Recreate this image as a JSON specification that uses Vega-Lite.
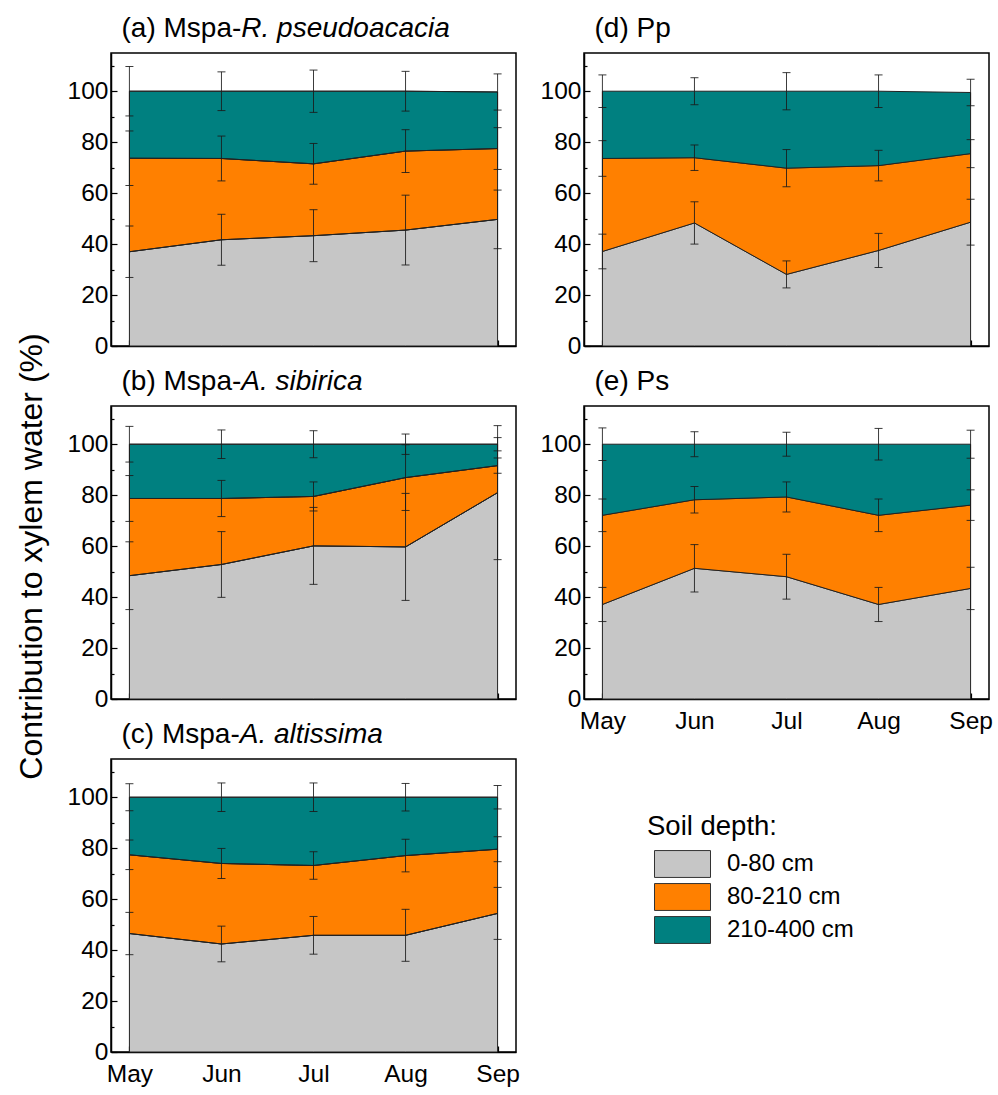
{
  "$schema": "https://vega.github.io/schema/vega-lite/v6.json",
  "padding": {"left": 14, "top": 13, "right": 5, "bottom": 5},
  "background": "white",
  "data": {"values": [
    {"p":"a","month":5,"depth":"0-80 cm","k":1,"value":37.0,"sd":10.1},
    {"p":"a","month":5,"depth":"80-210 cm","k":2,"value":36.7,"sd":10.7},
    {"p":"a","month":5,"depth":"210-400 cm","k":3,"value":26.3,"sd":9.7},
    {"p":"a","month":6,"depth":"0-80 cm","k":1,"value":41.7,"sd":10.0},
    {"p":"a","month":6,"depth":"80-210 cm","k":2,"value":31.9,"sd":8.8},
    {"p":"a","month":6,"depth":"210-400 cm","k":3,"value":26.4,"sd":7.6},
    {"p":"a","month":7,"depth":"0-80 cm","k":1,"value":43.3,"sd":10.2},
    {"p":"a","month":7,"depth":"80-210 cm","k":2,"value":28.2,"sd":8.0},
    {"p":"a","month":7,"depth":"210-400 cm","k":3,"value":28.5,"sd":8.3},
    {"p":"a","month":8,"depth":"0-80 cm","k":1,"value":45.5,"sd":13.7},
    {"p":"a","month":8,"depth":"80-210 cm","k":2,"value":31.0,"sd":8.4},
    {"p":"a","month":8,"depth":"210-400 cm","k":3,"value":23.5,"sd":7.8},
    {"p":"a","month":9,"depth":"0-80 cm","k":1,"value":49.7,"sd":11.5},
    {"p":"a","month":9,"depth":"80-210 cm","k":2,"value":27.8,"sd":8.2},
    {"p":"a","month":9,"depth":"210-400 cm","k":3,"value":22.2,"sd":7.1},
    {"p":"b","month":5,"depth":"0-80 cm","k":1,"value":48.4,"sd":13.3},
    {"p":"b","month":5,"depth":"80-210 cm","k":2,"value":30.3,"sd":9.0},
    {"p":"b","month":5,"depth":"210-400 cm","k":3,"value":21.3,"sd":7.0},
    {"p":"b","month":6,"depth":"0-80 cm","k":1,"value":52.8,"sd":12.9},
    {"p":"b","month":6,"depth":"80-210 cm","k":2,"value":25.9,"sd":7.1},
    {"p":"b","month":6,"depth":"210-400 cm","k":3,"value":21.3,"sd":5.6},
    {"p":"b","month":7,"depth":"0-80 cm","k":1,"value":60.1,"sd":15.1},
    {"p":"b","month":7,"depth":"80-210 cm","k":2,"value":19.4,"sd":5.7},
    {"p":"b","month":7,"depth":"210-400 cm","k":3,"value":20.5,"sd":5.3},
    {"p":"b","month":8,"depth":"0-80 cm","k":1,"value":59.7,"sd":21.0},
    {"p":"b","month":8,"depth":"80-210 cm","k":2,"value":27.2,"sd":12.9},
    {"p":"b","month":8,"depth":"210-400 cm","k":3,"value":13.1,"sd":4.0},
    {"p":"b","month":9,"depth":"0-80 cm","k":1,"value":81.0,"sd":26.3},
    {"p":"b","month":9,"depth":"80-210 cm","k":2,"value":10.6,"sd":3.0},
    {"p":"b","month":9,"depth":"210-400 cm","k":3,"value":8.4,"sd":2.6},
    {"p":"c","month":5,"depth":"0-80 cm","k":1,"value":46.5,"sd":8.3},
    {"p":"c","month":5,"depth":"80-210 cm","k":2,"value":30.9,"sd":5.8},
    {"p":"c","month":5,"depth":"210-400 cm","k":3,"value":22.6,"sd":5.3},
    {"p":"c","month":6,"depth":"0-80 cm","k":1,"value":42.4,"sd":7.0},
    {"p":"c","month":6,"depth":"80-210 cm","k":2,"value":31.6,"sd":5.9},
    {"p":"c","month":6,"depth":"210-400 cm","k":3,"value":26.0,"sd":5.6},
    {"p":"c","month":7,"depth":"0-80 cm","k":1,"value":45.8,"sd":7.4},
    {"p":"c","month":7,"depth":"80-210 cm","k":2,"value":27.4,"sd":5.4},
    {"p":"c","month":7,"depth":"210-400 cm","k":3,"value":26.8,"sd":5.6},
    {"p":"c","month":8,"depth":"0-80 cm","k":1,"value":45.8,"sd":10.2},
    {"p":"c","month":8,"depth":"80-210 cm","k":2,"value":31.3,"sd":6.4},
    {"p":"c","month":8,"depth":"210-400 cm","k":3,"value":22.9,"sd":5.4},
    {"p":"c","month":9,"depth":"0-80 cm","k":1,"value":54.4,"sd":10.2},
    {"p":"c","month":9,"depth":"80-210 cm","k":2,"value":25.2,"sd":4.9},
    {"p":"c","month":9,"depth":"210-400 cm","k":3,"value":20.4,"sd":4.6},
    {"p":"d","month":5,"depth":"0-80 cm","k":1,"value":37.1,"sd":6.8},
    {"p":"d","month":5,"depth":"80-210 cm","k":2,"value":36.5,"sd":7.0},
    {"p":"d","month":5,"depth":"210-400 cm","k":3,"value":26.4,"sd":6.4},
    {"p":"d","month":6,"depth":"0-80 cm","k":1,"value":48.3,"sd":8.3},
    {"p":"d","month":6,"depth":"80-210 cm","k":2,"value":25.6,"sd":5.0},
    {"p":"d","month":6,"depth":"210-400 cm","k":3,"value":26.1,"sd":5.3},
    {"p":"d","month":7,"depth":"0-80 cm","k":1,"value":28.1,"sd":5.3},
    {"p":"d","month":7,"depth":"80-210 cm","k":2,"value":41.7,"sd":7.3},
    {"p":"d","month":7,"depth":"210-400 cm","k":3,"value":30.2,"sd":7.3},
    {"p":"d","month":8,"depth":"0-80 cm","k":1,"value":37.5,"sd":6.7},
    {"p":"d","month":8,"depth":"80-210 cm","k":2,"value":33.3,"sd":6.0},
    {"p":"d","month":8,"depth":"210-400 cm","k":3,"value":29.2,"sd":6.4},
    {"p":"d","month":9,"depth":"0-80 cm","k":1,"value":48.6,"sd":9.0},
    {"p":"d","month":9,"depth":"80-210 cm","k":2,"value":26.9,"sd":5.5},
    {"p":"d","month":9,"depth":"210-400 cm","k":3,"value":24.0,"sd":5.2},
    {"p":"e","month":5,"depth":"0-80 cm","k":1,"value":37.1,"sd":6.7},
    {"p":"e","month":5,"depth":"80-210 cm","k":2,"value":35.0,"sd":6.4},
    {"p":"e","month":5,"depth":"210-400 cm","k":3,"value":27.9,"sd":6.4},
    {"p":"e","month":6,"depth":"0-80 cm","k":1,"value":51.3,"sd":9.3},
    {"p":"e","month":6,"depth":"80-210 cm","k":2,"value":26.9,"sd":5.2},
    {"p":"e","month":6,"depth":"210-400 cm","k":3,"value":21.8,"sd":4.9},
    {"p":"e","month":7,"depth":"0-80 cm","k":1,"value":48.0,"sd":8.8},
    {"p":"e","month":7,"depth":"80-210 cm","k":2,"value":31.3,"sd":5.9},
    {"p":"e","month":7,"depth":"210-400 cm","k":3,"value":20.7,"sd":4.7},
    {"p":"e","month":8,"depth":"0-80 cm","k":1,"value":37.1,"sd":6.7},
    {"p":"e","month":8,"depth":"80-210 cm","k":2,"value":35.0,"sd":6.4},
    {"p":"e","month":8,"depth":"210-400 cm","k":3,"value":27.9,"sd":6.2},
    {"p":"e","month":9,"depth":"0-80 cm","k":1,"value":43.4,"sd":8.3},
    {"p":"e","month":9,"depth":"80-210 cm","k":2,"value":32.7,"sd":6.0},
    {"p":"e","month":9,"depth":"210-400 cm","k":3,"value":23.9,"sd":5.5}
  ]},
  "columns": 2,
  "bounds": "flush",
  "spacing": {"row": 60, "column": 68},
  "concat": [
    {
      "width": 405, "height": 293,
      "transform": [
        {"filter": "datum.p === 'a'"},
        {"stack": "value", "groupby": ["month"], "sort": [{"field": "k", "order": "ascending"}], "as": ["y0", "y1"]}
      ],
      "resolve": {"axis": {"x": "independent"}},
      "layer": [
        {
          "mark": {"type": "area", "opacity": 1, "stroke": "#222222", "strokeWidth": 1, "interpolate": "linear"},
          "encoding": {
            "x": {"field": "month", "type": "quantitative", "scale": {"domain": [4.8, 9.2], "nice": false, "zero": false},
                  "axis": {"orient": "bottom", "title": null, "values": [5,5.5,6,6.5,7,7.5,8,8.5,9], "labels": false,
                           "tickSize": {"condition": {"test": "datum.value % 1 === 0", "value": -6}, "value": -3}}},
            "y": {"field": "y1", "type": "quantitative", "scale": {"domain": [0, 115], "nice": false},
                  "axis": {"title": null, "values": [0,10,20,30,40,50,60,70,80,90,100,110], "labelPadding": 9,
                           "labelExpr": "datum.value % 20 === 0 && datum.value <= 100 ? datum.label : ''",
                           "tickSize": {"condition": {"test": "datum.value % 20 === 0", "value": -6}, "value": -3}}},
            "y2": {"field": "y0"},
            "color": {"field": "depth", "type": "nominal", "title": "Soil depth:",
                      "scale": {"domain": ["0-80 cm", "80-210 cm", "210-400 cm"], "range": ["#C6C6C6", "#FF8000", "#008080"]},
                      "legend": {"orient": "none", "legendX": 536, "legendY": 760}},
            "order": {"field": "k"}
          }
        },
        {
          "mark": {"type": "line", "color": "#222222", "strokeWidth": 1},
          "encoding": {
            "x": {"field": "month", "type": "quantitative",
                  "axis": {"orient": "top", "labels": false, "ticks": false, "domain": false, "title": "(a) Mspa-",
                           "titleFontSize": 28, "titleX": 10, "titleY": -17,
                           "titleAlign": "left", "titleBaseline": "alphabetic", "titleAnchor": "start"}},
            "y": {"field": "y1", "type": "quantitative",
                  "axis": {"title": null, "values": [0,10,20,30,40,50,60,70,80,90,100,110], "labelPadding": 9,
                           "labelExpr": "datum.value % 20 === 0 && datum.value <= 100 ? datum.label : ''",
                           "tickSize": {"condition": {"test": "datum.value % 20 === 0", "value": -6}, "value": -3}}},
            "detail": {"field": "depth"}
          }
        },
        {
          "mark": {"type": "errorbar", "ticks": {"size": 8}, "color": "#1a1a1a", "thickness": 1, "opacity": 0.85},
          "encoding": {
            "x": {"field": "month", "type": "quantitative",
                  "axis": {"orient": "top", "labels": false, "ticks": false, "domain": false, "title": "R. pseudoacacia",
                           "titleFontStyle": "italic", "titleFontSize": 28, "titleX": 129.8, "titleY": -17,
                           "titleAlign": "left", "titleBaseline": "alphabetic", "titleAnchor": "start"}},
            "y": {"field": "y1", "type": "quantitative",
                  "axis": {"title": null, "values": [0,10,20,30,40,50,60,70,80,90,100,110], "labelPadding": 9,
                           "labelExpr": "datum.value % 20 === 0 && datum.value <= 100 ? datum.label : ''",
                           "tickSize": {"condition": {"test": "datum.value % 20 === 0", "value": -6}, "value": -3}}},
            "yError": {"field": "sd"}
          }
        }
      ]
    },
    {
      "width": 405, "height": 293,
      "transform": [
        {"filter": "datum.p === 'd'"},
        {"stack": "value", "groupby": ["month"], "sort": [{"field": "k", "order": "ascending"}], "as": ["y0", "y1"]}
      ],
      "resolve": {"axis": {"x": "independent"}},
      "layer": [
        {
          "mark": {"type": "area", "opacity": 1, "stroke": "#222222", "strokeWidth": 1, "interpolate": "linear"},
          "encoding": {
            "x": {"field": "month", "type": "quantitative", "scale": {"domain": [4.8, 9.2], "nice": false, "zero": false},
                  "axis": {"orient": "bottom", "title": null, "values": [5,5.5,6,6.5,7,7.5,8,8.5,9], "labels": false,
                           "tickSize": {"condition": {"test": "datum.value % 1 === 0", "value": -6}, "value": -3}}},
            "y": {"field": "y1", "type": "quantitative", "scale": {"domain": [0, 115], "nice": false},
                  "axis": {"title": null, "values": [0,10,20,30,40,50,60,70,80,90,100,110], "labelPadding": 9,
                           "labelExpr": "datum.value % 20 === 0 && datum.value <= 100 ? datum.label : ''",
                           "tickSize": {"condition": {"test": "datum.value % 20 === 0", "value": -6}, "value": -3}}},
            "y2": {"field": "y0"},
            "color": {"field": "depth", "type": "nominal", "title": "Soil depth:",
                      "scale": {"domain": ["0-80 cm", "80-210 cm", "210-400 cm"], "range": ["#C6C6C6", "#FF8000", "#008080"]},
                      "legend": {"orient": "none", "legendX": 536, "legendY": 760}},
            "order": {"field": "k"}
          }
        },
        {
          "mark": {"type": "errorbar", "ticks": {"size": 8}, "color": "#1a1a1a", "thickness": 1, "opacity": 0.85},
          "encoding": {
            "x": {"field": "month", "type": "quantitative",
                  "axis": {"orient": "top", "labels": false, "ticks": false, "domain": false, "title": "(d) Pp",
                           "titleFontSize": 28, "titleX": 10, "titleY": -17,
                           "titleAlign": "left", "titleBaseline": "alphabetic", "titleAnchor": "start"}},
            "y": {"field": "y1", "type": "quantitative",
                  "axis": {"title": null, "values": [0,10,20,30,40,50,60,70,80,90,100,110], "labelPadding": 9,
                           "labelExpr": "datum.value % 20 === 0 && datum.value <= 100 ? datum.label : ''",
                           "tickSize": {"condition": {"test": "datum.value % 20 === 0", "value": -6}, "value": -3}}},
            "yError": {"field": "sd"}
          }
        }
      ]
    },
    {
      "width": 405, "height": 293,
      "transform": [
        {"filter": "datum.p === 'b'"},
        {"stack": "value", "groupby": ["month"], "sort": [{"field": "k", "order": "ascending"}], "as": ["y0", "y1"]}
      ],
      "resolve": {"axis": {"x": "independent"}},
      "layer": [
        {
          "mark": {"type": "area", "opacity": 1, "stroke": "#222222", "strokeWidth": 1, "interpolate": "linear"},
          "encoding": {
            "x": {"field": "month", "type": "quantitative", "scale": {"domain": [4.8, 9.2], "nice": false, "zero": false},
                  "axis": {"orient": "bottom", "title": null, "values": [5,5.5,6,6.5,7,7.5,8,8.5,9], "labels": false,
                           "tickSize": {"condition": {"test": "datum.value % 1 === 0", "value": -6}, "value": -3}}},
            "y": {"field": "y1", "type": "quantitative", "scale": {"domain": [0, 115], "nice": false},
                  "axis": {"title": "Contribution to xylem water (%)", "titleFontSize": 32, "titleX": -70, "titleY": 150,
                           "titleAngle": 270, "titleAlign": "center", "titleBaseline": "alphabetic", "titleAnchor": null,
                           "values": [0,10,20,30,40,50,60,70,80,90,100,110], "labelPadding": 9,
                           "labelExpr": "datum.value % 20 === 0 && datum.value <= 100 ? datum.label : ''",
                           "tickSize": {"condition": {"test": "datum.value % 20 === 0", "value": -6}, "value": -3}}},
            "y2": {"field": "y0"},
            "color": {"field": "depth", "type": "nominal", "title": "Soil depth:",
                      "scale": {"domain": ["0-80 cm", "80-210 cm", "210-400 cm"], "range": ["#C6C6C6", "#FF8000", "#008080"]},
                      "legend": {"orient": "none", "legendX": 536, "legendY": 760}},
            "order": {"field": "k"}
          }
        },
        {
          "mark": {"type": "line", "color": "#222222", "strokeWidth": 1},
          "encoding": {
            "x": {"field": "month", "type": "quantitative",
                  "axis": {"orient": "top", "labels": false, "ticks": false, "domain": false, "title": "(b) Mspa-",
                           "titleFontSize": 28, "titleX": 10, "titleY": -17,
                           "titleAlign": "left", "titleBaseline": "alphabetic", "titleAnchor": "start"}},
            "y": {"field": "y1", "type": "quantitative",
                  "axis": {"title": "Contribution to xylem water (%)", "titleFontSize": 32, "titleX": -70, "titleY": 150,
                           "titleAngle": 270, "titleAlign": "center", "titleBaseline": "alphabetic", "titleAnchor": null,
                           "values": [0,10,20,30,40,50,60,70,80,90,100,110], "labelPadding": 9,
                           "labelExpr": "datum.value % 20 === 0 && datum.value <= 100 ? datum.label : ''",
                           "tickSize": {"condition": {"test": "datum.value % 20 === 0", "value": -6}, "value": -3}}},
            "detail": {"field": "depth"}
          }
        },
        {
          "mark": {"type": "errorbar", "ticks": {"size": 8}, "color": "#1a1a1a", "thickness": 1, "opacity": 0.85},
          "encoding": {
            "x": {"field": "month", "type": "quantitative",
                  "axis": {"orient": "top", "labels": false, "ticks": false, "domain": false, "title": "A. sibirica",
                           "titleFontStyle": "italic", "titleFontSize": 28, "titleX": 129.8, "titleY": -17,
                           "titleAlign": "left", "titleBaseline": "alphabetic", "titleAnchor": "start"}},
            "y": {"field": "y1", "type": "quantitative",
                  "axis": {"title": "Contribution to xylem water (%)", "titleFontSize": 32, "titleX": -70, "titleY": 150,
                           "titleAngle": 270, "titleAlign": "center", "titleBaseline": "alphabetic", "titleAnchor": null,
                           "values": [0,10,20,30,40,50,60,70,80,90,100,110], "labelPadding": 9,
                           "labelExpr": "datum.value % 20 === 0 && datum.value <= 100 ? datum.label : ''",
                           "tickSize": {"condition": {"test": "datum.value % 20 === 0", "value": -6}, "value": -3}}},
            "yError": {"field": "sd"}
          }
        }
      ]
    },
    {
      "width": 405, "height": 293,
      "transform": [
        {"filter": "datum.p === 'e'"},
        {"stack": "value", "groupby": ["month"], "sort": [{"field": "k", "order": "ascending"}], "as": ["y0", "y1"]}
      ],
      "resolve": {"axis": {"x": "independent"}},
      "layer": [
        {
          "mark": {"type": "area", "opacity": 1, "stroke": "#222222", "strokeWidth": 1, "interpolate": "linear"},
          "encoding": {
            "x": {"field": "month", "type": "quantitative", "scale": {"domain": [4.8, 9.2], "nice": false, "zero": false},
                  "axis": {"orient": "bottom", "title": null, "values": [5,5.5,6,6.5,7,7.5,8,8.5,9], "labelPadding": 16,
                           "labelExpr": "datum.value % 1 === 0 ? ['May','Jun','Jul','Aug','Sep'][datum.value - 5] : ''",
                           "tickSize": {"condition": {"test": "datum.value % 1 === 0", "value": -6}, "value": -3}}},
            "y": {"field": "y1", "type": "quantitative", "scale": {"domain": [0, 115], "nice": false},
                  "axis": {"title": null, "values": [0,10,20,30,40,50,60,70,80,90,100,110], "labelPadding": 9,
                           "labelExpr": "datum.value % 20 === 0 && datum.value <= 100 ? datum.label : ''",
                           "tickSize": {"condition": {"test": "datum.value % 20 === 0", "value": -6}, "value": -3}}},
            "y2": {"field": "y0"},
            "color": {"field": "depth", "type": "nominal", "title": "Soil depth:",
                      "scale": {"domain": ["0-80 cm", "80-210 cm", "210-400 cm"], "range": ["#C6C6C6", "#FF8000", "#008080"]},
                      "legend": {"orient": "none", "legendX": 536, "legendY": 760}},
            "order": {"field": "k"}
          }
        },
        {
          "mark": {"type": "errorbar", "ticks": {"size": 8}, "color": "#1a1a1a", "thickness": 1, "opacity": 0.85},
          "encoding": {
            "x": {"field": "month", "type": "quantitative",
                  "axis": {"orient": "top", "labels": false, "ticks": false, "domain": false, "title": "(e) Ps",
                           "titleFontSize": 28, "titleX": 10, "titleY": -17,
                           "titleAlign": "left", "titleBaseline": "alphabetic", "titleAnchor": "start"}},
            "y": {"field": "y1", "type": "quantitative",
                  "axis": {"title": null, "values": [0,10,20,30,40,50,60,70,80,90,100,110], "labelPadding": 9,
                           "labelExpr": "datum.value % 20 === 0 && datum.value <= 100 ? datum.label : ''",
                           "tickSize": {"condition": {"test": "datum.value % 20 === 0", "value": -6}, "value": -3}}},
            "yError": {"field": "sd"}
          }
        }
      ]
    },
    {
      "width": 405, "height": 293,
      "transform": [
        {"filter": "datum.p === 'c'"},
        {"stack": "value", "groupby": ["month"], "sort": [{"field": "k", "order": "ascending"}], "as": ["y0", "y1"]}
      ],
      "resolve": {"axis": {"x": "independent"}},
      "layer": [
        {
          "mark": {"type": "area", "opacity": 1, "stroke": "#222222", "strokeWidth": 1, "interpolate": "linear"},
          "encoding": {
            "x": {"field": "month", "type": "quantitative", "scale": {"domain": [4.8, 9.2], "nice": false, "zero": false},
                  "axis": {"orient": "bottom", "title": null, "values": [5,5.5,6,6.5,7,7.5,8,8.5,9], "labelPadding": 16,
                           "labelExpr": "datum.value % 1 === 0 ? ['May','Jun','Jul','Aug','Sep'][datum.value - 5] : ''",
                           "tickSize": {"condition": {"test": "datum.value % 1 === 0", "value": -6}, "value": -3}}},
            "y": {"field": "y1", "type": "quantitative", "scale": {"domain": [0, 115], "nice": false},
                  "axis": {"title": null, "values": [0,10,20,30,40,50,60,70,80,90,100,110], "labelPadding": 9,
                           "labelExpr": "datum.value % 20 === 0 && datum.value <= 100 ? datum.label : ''",
                           "tickSize": {"condition": {"test": "datum.value % 20 === 0", "value": -6}, "value": -3}}},
            "y2": {"field": "y0"},
            "color": {"field": "depth", "type": "nominal", "title": "Soil depth:",
                      "scale": {"domain": ["0-80 cm", "80-210 cm", "210-400 cm"], "range": ["#C6C6C6", "#FF8000", "#008080"]},
                      "legend": {"orient": "none", "legendX": 536, "legendY": 760}},
            "order": {"field": "k"}
          }
        },
        {
          "mark": {"type": "line", "color": "#222222", "strokeWidth": 1},
          "encoding": {
            "x": {"field": "month", "type": "quantitative",
                  "axis": {"orient": "top", "labels": false, "ticks": false, "domain": false, "title": "(c) Mspa-",
                           "titleFontSize": 28, "titleX": 10, "titleY": -17,
                           "titleAlign": "left", "titleBaseline": "alphabetic", "titleAnchor": "start"}},
            "y": {"field": "y1", "type": "quantitative",
                  "axis": {"title": null, "values": [0,10,20,30,40,50,60,70,80,90,100,110], "labelPadding": 9,
                           "labelExpr": "datum.value % 20 === 0 && datum.value <= 100 ? datum.label : ''",
                           "tickSize": {"condition": {"test": "datum.value % 20 === 0", "value": -6}, "value": -3}}},
            "detail": {"field": "depth"}
          }
        },
        {
          "mark": {"type": "errorbar", "ticks": {"size": 8}, "color": "#1a1a1a", "thickness": 1, "opacity": 0.85},
          "encoding": {
            "x": {"field": "month", "type": "quantitative",
                  "axis": {"orient": "top", "labels": false, "ticks": false, "domain": false, "title": "A. altissima",
                           "titleFontStyle": "italic", "titleFontSize": 28, "titleX": 128.2, "titleY": -17,
                           "titleAlign": "left", "titleBaseline": "alphabetic", "titleAnchor": "start"}},
            "y": {"field": "y1", "type": "quantitative",
                  "axis": {"title": null, "values": [0,10,20,30,40,50,60,70,80,90,100,110], "labelPadding": 9,
                           "labelExpr": "datum.value % 20 === 0 && datum.value <= 100 ? datum.label : ''",
                           "tickSize": {"condition": {"test": "datum.value % 20 === 0", "value": -6}, "value": -3}}},
            "yError": {"field": "sd"}
          }
        }
      ]
    }
  ],
  "config": {
    "font": "Liberation Sans",
    "view": {"stroke": "black", "strokeWidth": 1.5},
    "axis": {"grid": false, "domainColor": "black", "domainWidth": 1.5, "tickColor": "black", "tickWidth": 1.2,
             "labelFont": "Liberation Sans", "labelFontSize": 24.5, "labelColor": "black", "labelFlush": false, "labelOverlap": false,
             "titleFont": "Liberation Sans", "titleFontWeight": "normal", "titleColor": "black"},
    "legend": {"titleFont": "Liberation Sans", "titleFontSize": 27.5, "titleFontWeight": "normal", "titleColor": "black",
               "labelFont": "Liberation Sans", "labelFontSize": 24, "labelColor": "black",
               "symbolType": "M-2,-0.96H2V0.96H-2Z", "symbolSize": 784, "symbolStrokeColor": "#333333", "symbolStrokeWidth": 1,
               "symbolOpacity": 1, "rowPadding": 2, "labelOffset": 30, "symbolOffset": 21, "titlePadding": 9, "padding": 0}
  }
}
